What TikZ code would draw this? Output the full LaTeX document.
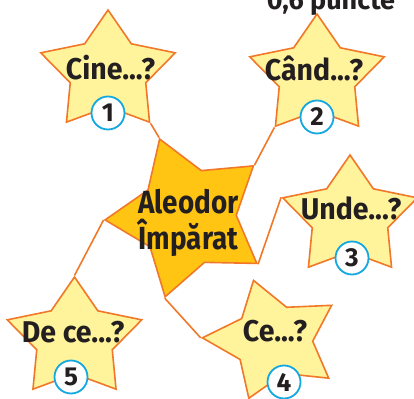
\documentclass[tikz,border=0pt]{standalone}
\usepackage{fontspec}
\setmainfont{Fira Sans}
\newfontfamily\condfont[FakeStretch=0.87]{Fira Sans}
\newfontfamily\qfont[FakeStretch=0.95]{Fira Sans}
\usetikzlibrary{shapes.geometric}
\definecolor{starfill}{RGB}{255,243,155}
\definecolor{kingfill}{RGB}{255,197,18}
\definecolor{edge}{RGB}{240,120,40}
\definecolor{numblue}{RGB}{20,168,224}
\definecolor{ink}{RGB}{35,31,32}

\begin{document}
\begin{tikzpicture}[x=1pt, y=1pt,
    smallstar/.style={star, star points=5, star point ratio=1.78, minimum size=124pt, inner sep=0pt, draw=edge, fill=starfill, line width=1.6pt, xscale=1.14},
    kingstar/.style={star, star points=5, star point ratio=1.72, minimum size=166pt, inner sep=0pt, draw=edge, fill=kingfill, line width=1.6pt, rotate=92},
    num/.style={circle, draw=numblue, fill=white, line width=1.8pt, minimum size=33pt, inner sep=0pt, text=ink, font=\fontsize{26}{26}\selectfont\bfseries},
    qlbl/.style={anchor=base, inner sep=0pt, text=ink, font=\qfont\fontsize{30}{32}\selectfont\bfseries},
    kinglbl/.style={align=center, inner sep=0pt, text=ink, font=\condfont\fontsize{32}{36}\selectfont\bfseries},
    link/.style={draw=edge, line width=1.6pt}
]
\useasboundingbox (0,0) rectangle (414,398);
\clip (0,0) rectangle (414,398);

% Stars
\node[kingstar]            (king)  at (188,181)  {};
\node[smallstar]           (who)   at (108,326)  {};
\node[smallstar]           (when)  at (317,322)  {};
\node[smallstar]           (where) at (350,181)  {};
\node[smallstar, rotate=16] (what) at (273,58)   {};
\node[smallstar]           (why)   at (74.5,59)  {};

% Connections
\draw[link] (who.outer point 4)   -- (king.outer point 5);
\draw[link] (when.outer point 3)  -- (king.outer point 4);
\draw[link] (where.outer point 2) -- (king.outer point 3);
\draw[link] (king.outer point 2)  -- (what.outer point 2);
\draw[link] (king.outer point 1)  -- (why.outer point 1);

% Labels
\node[kinglbl] (kingt)  at (188.5,175) {Aleodor\\Împărat};
\node[qlbl]    (whot)   at (110.5,318) {Cine...?};
\node[qlbl]    (whent)  at (314,317)   {Când...?};
\node[qlbl]    (wheret) at (351,178)   {Unde...?};
\node[qlbl]    (whatt)  at (275,56)    {Ce...?};
\node[qlbl]    (whyt)   at (73,55)     {De ce...?};

% Numbers
\node[num] (n1) at (108,285) {1};
\node[num] (n2) at (317,281) {2};
\node[num] (n3) at (352,140) {3};
\node[num] (n4) at (284,16)  {4};
\node[num] (n5) at (71,21)   {5};

% Cut heading
\node[anchor=base, inner sep=0pt, text=ink, font=\fontsize{27}{27}\selectfont\bfseries] (pts) at (331,388) {0,6 puncte};

\end{tikzpicture}
\end{document}
